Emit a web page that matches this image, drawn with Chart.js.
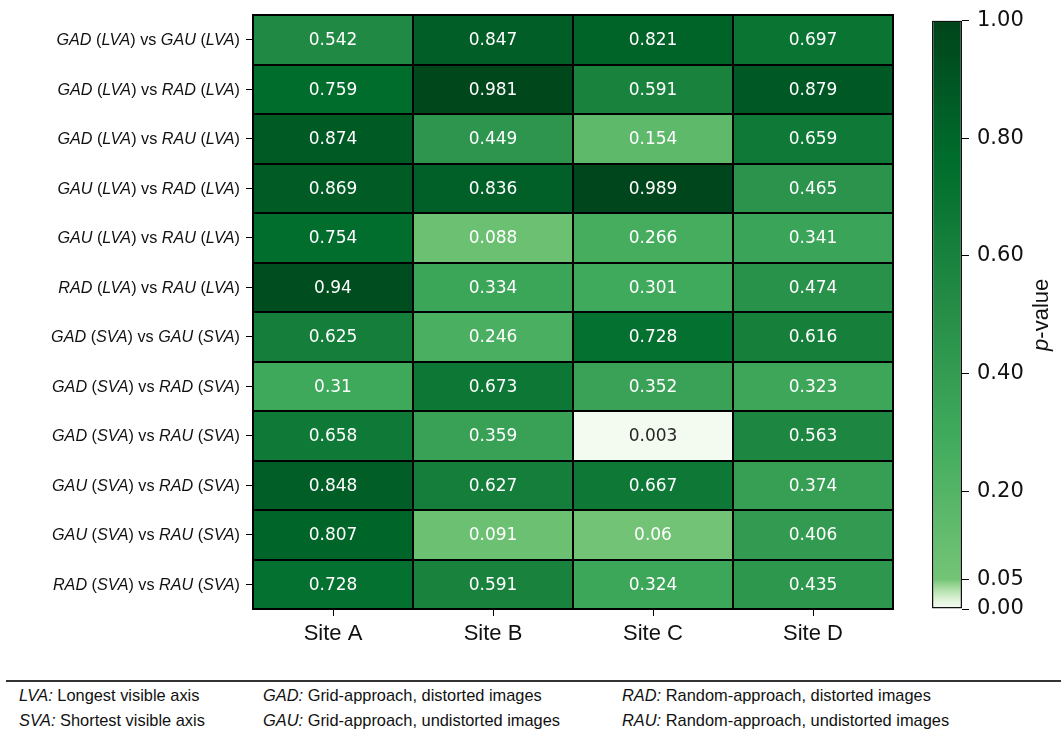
<!DOCTYPE html>
<html>
<head>
<meta charset="utf-8">
<script src="https://cdn.jsdelivr.net/npm/chart.js@4"></script>
<style>
  html, body { margin: 0; padding: 0; background: #fff; }
  #wrap { position: relative; width: 1061px; height: 733px; overflow: hidden; }
  #heat { position: absolute; left: 0; top: 0; }
  #cbar { position: absolute; left: 900px; top: 0; }
  .rule { position: absolute; left: 6px; right: 0; top: 680px; height: 2px; background: #333; }
  .note { position: absolute; font: 16.4px "Liberation Sans", Arial, sans-serif; color: #111; white-space: nowrap; line-height: 20px; }
  .note i { font-style: italic; }
</style>
</head>
<body>
<div id="wrap">
  <canvas id="heat" width="920" height="665"></canvas>
  <canvas id="cbar" width="161" height="665"></canvas>
  <div class="rule"></div>
  <div class="note" style="left:19px;top:685px"><i>LVA:</i> Longest visible axis</div>
  <div class="note" style="left:19px;top:710px"><i>SVA:</i> Shortest visible axis</div>
  <div class="note" style="left:263px;top:685px"><i>GAD:</i> Grid-approach, distorted images</div>
  <div class="note" style="left:263px;top:710px"><i>GAU:</i> Grid-approach, undistorted images</div>
  <div class="note" style="left:622px;top:685px"><i>RAD:</i> Random-approach, distorted images</div>
  <div class="note" style="left:622px;top:710px"><i>RAU:</i> Random-approach, undistorted images</div>
</div>
<script>
// Sites (columns) and pairwise comparisons (rows)
const sites = ['Site A', 'Site B', 'Site C', 'Site D'];
const comparisons = [
  'GAD (LVA) vs GAU (LVA)',
  'GAD (LVA) vs RAD (LVA)',
  'GAD (LVA) vs RAU (LVA)',
  'GAU (LVA) vs RAD (LVA)',
  'GAU (LVA) vs RAU (LVA)',
  'RAD (LVA) vs RAU (LVA)',
  'GAD (SVA) vs GAU (SVA)',
  'GAD (SVA) vs RAD (SVA)',
  'GAD (SVA) vs RAU (SVA)',
  'GAU (SVA) vs RAD (SVA)',
  'GAU (SVA) vs RAU (SVA)',
  'RAD (SVA) vs RAU (SVA)'
];

// p-values per site, one entry per comparison
const siteA = [0.542, 0.759, 0.874, 0.869, 0.754, 0.94, 0.625, 0.31, 0.658, 0.848, 0.807, 0.728];
const siteB = [0.847, 0.981, 0.449, 0.836, 0.088, 0.334, 0.246, 0.673, 0.359, 0.627, 0.091, 0.591];
const siteC = [0.821, 0.591, 0.154, 0.989, 0.266, 0.301, 0.728, 0.352, 0.003, 0.667, 0.06, 0.324];
const siteD = [0.697, 0.879, 0.659, 0.465, 0.341, 0.474, 0.616, 0.323, 0.563, 0.374, 0.406, 0.435];

// Colour bar ticks
const cbarTicks = [0, 0.05, 0.2, 0.4, 0.6, 0.8, 1.0];

const siteValues = [siteA, siteB, siteC, siteD];

// "Greens" colour map (ColorBrewer anchors, linearly interpolated)
const GREENS = ['#f7fcf5', '#e5f5e0', '#c7e9c0', '#a1d99b', '#74c476', '#41ab5d', '#238b45', '#006d2c', '#00441b']
  .map(h => [parseInt(h.slice(1, 3), 16), parseInt(h.slice(3, 5), 16), parseInt(h.slice(5, 7), 16)]);
function greens(t) {
  t = Math.max(0, Math.min(1, t));
  const x = t * (GREENS.length - 1);
  const i = Math.min(Math.floor(x), GREENS.length - 2);
  const f = x - i;
  const a = GREENS[i], b = GREENS[i + 1];
  return [0, 1, 2].map(k => Math.round(a[k] + (b[k] - a[k]) * f));
}
// Two-slope normalisation: 0 -> 0, 0.05 -> 0.5, 1 -> 1
const VMIN = 0, VCENTER = 0.05, VMAX = 1;
function norm(v) {
  if (v <= VCENTER) return 0.5 * (v - VMIN) / (VCENTER - VMIN);
  return 0.5 + 0.5 * (v - VCENTER) / (VMAX - VCENTER);
}
function colorFor(v) { const c = greens(norm(v)); return `rgb(${c[0]},${c[1]},${c[2]})`; }
function isLight(v) {
  const c = greens(norm(v)).map(x => { x /= 255; return x <= 0.03928 ? x / 12.92 : Math.pow((x + 0.055) / 1.055, 2.4); });
  return 0.2126 * c[0] + 0.7152 * c[1] + 0.0722 * c[2] > 0.6;
}

// One stacked dataset per comparison row; each cell spans one unit
const datasets = comparisons.map((name, r) => {
  const pv = siteValues.map(col => col[r]);
  return {
    label: name,
    data: sites.map(() => 1),
    pvals: pv,
    backgroundColor: pv.map(colorFor),
    borderWidth: 0,
    inflateAmount: 0.5,
    barPercentage: 1,
    categoryPercentage: 1
  };
});

const ROW_FONT = '16.2px "Liberation Sans", Arial, sans-serif';
const ROW_FONT_IT = 'italic 16.2px "Liberation Sans", Arial, sans-serif';

const heatPlugin = {
  id: 'heatText',
  afterDatasetsDraw(chart) {
    const ctx = chart.ctx;
    const xs = chart.scales.x, ys = chart.scales.y;
    const area = chart.chartArea;
    ctx.save();
    // cell separators and frame
    ctx.strokeStyle = '#000';
    ctx.lineWidth = 2;
    ctx.beginPath();
    for (let r = 0; r <= comparisons.length; r++) {
      const y = Math.round(ys.getPixelForValue(r));
      ctx.moveTo(area.left - 1, y); ctx.lineTo(area.right + 1, y);
    }
    const step = (area.right - area.left) / sites.length;
    for (let c = 0; c <= sites.length; c++) {
      const x = Math.round(area.left + c * step);
      ctx.moveTo(x, area.top - 1); ctx.lineTo(x, area.bottom + 1);
    }
    ctx.stroke();
    // cell annotations
    ctx.font = '17px "DejaVu Sans", sans-serif';
    ctx.textAlign = 'center';
    ctx.textBaseline = 'middle';
    chart.data.datasets.forEach((ds, r) => {
      const meta = chart.getDatasetMeta(r);
      meta.data.forEach((el, c) => {
        const p = el.getProps(['x', 'y', 'base'], true);
        const v = ds.pvals[c];
        ctx.fillStyle = isLight(v) ? '#262626' : '#ffffff';
        ctx.fillText(String(v), p.x, (p.y + p.base) / 2 + 1);
      });
    });
    ctx.restore();
  },
  afterDraw(chart) {
    // row labels: abbreviations in italics
    const ctx = chart.ctx;
    const ys = chart.scales.y;
    ctx.save();
    ctx.fillStyle = '#111';
    ctx.textBaseline = 'middle';
    ctx.textAlign = 'left';
    comparisons.forEach((lab, r) => {
      const parts = lab.split(/([A-Z]{2,})/).filter(s => s.length);
      const runs = parts.map(s => ({ s, it: /^[A-Z]{2,}$/.test(s) }));
      let w = 0;
      runs.forEach(run => { ctx.font = run.it ? ROW_FONT_IT : ROW_FONT; run.w = ctx.measureText(run.s).width; w += run.w; });
      let x = 240 - w;
      const y = ys.getPixelForValue(r + 0.5) + 1;
      runs.forEach(run => { ctx.font = run.it ? ROW_FONT_IT : ROW_FONT; ctx.fillText(run.s, x, y); x += run.w; });
    });
    ctx.restore();
  }
};

new Chart(document.getElementById('heat'), {
  type: 'bar',
  data: { labels: sites, datasets },
  options: {
    responsive: false,
    animation: false,
    devicePixelRatio: 1,
    layout: { padding: { left: 0, right: 27, top: 15, bottom: 0 } },
    plugins: { legend: { display: false }, tooltip: { enabled: false } },
    scales: {
      x: {
        stacked: true,
        grid: { display: true, drawOnChartArea: false, drawTicks: true, tickLength: 7, color: '#000', offset: false },
        border: { display: false },
        ticks: { color: '#111', font: { family: '"Liberation Sans", Arial, sans-serif', size: 22 }, padding: 5, maxRotation: 0 },
        afterFit(s) { s.height = 56; }
      },
      y: {
        stacked: true,
        min: 0, max: comparisons.length,
        reverse: true,
        afterBuildTicks(s) { s.ticks = comparisons.map((_, i) => ({ value: i + 0.5 })); },
        grid: { display: true, drawOnChartArea: false, drawTicks: true, tickLength: 7, color: '#000' },
        border: { display: false },
        ticks: { callback: () => '', autoSkip: false },
        afterFit(s) { s.width = 253; }
      }
    }
  },
  plugins: [heatPlugin]
});

// Colour bar: a single bar spanning the full value range, filled with the colour map
function cbarGradient(ctx) {
  const chart = ctx.chart;
  const ys = chart.scales.y;
  if (!ys || !chart.chartArea) return colorFor(0.5);
  const y0 = ys.getPixelForValue(VMIN), y1 = ys.getPixelForValue(VMAX);
  const g = chart.ctx.createLinearGradient(0, y0, 0, y1);
  const n = GREENS.length - 1;
  for (let k = 0; k <= n; k++) {
    const t = k / n;
    const v = t <= 0.5 ? VMIN + (VCENTER - VMIN) * t / 0.5 : VCENTER + (VMAX - VCENTER) * (t - 0.5) / 0.5;
    const c = GREENS[k];
    g.addColorStop((v - VMIN) / (VMAX - VMIN), `rgb(${c[0]},${c[1]},${c[2]})`);
  }
  return g;
}

const cbarTitle = {
  id: 'cbarTitle',
  afterDraw(chart) {
    const ctx = chart.ctx;
    const ys = chart.scales.y;
    const cy = (ys.top + ys.bottom) / 2;
    ctx.save();
    ctx.translate(142, cy);
    ctx.rotate(-Math.PI / 2);
    ctx.fillStyle = '#111';
    ctx.textBaseline = 'middle';
    const fIt = 'italic 22px "Liberation Sans", Arial, sans-serif';
    const fUp = '22px "Liberation Sans", Arial, sans-serif';
    ctx.font = fIt; const w1 = ctx.measureText('p').width;
    ctx.font = fUp; const w2 = ctx.measureText('-value').width;
    let x = -(w1 + w2) / 2;
    ctx.font = fIt; ctx.fillText('p', x, 0);
    ctx.font = fUp; ctx.fillText('-value', x + w1, 0);
    ctx.restore();
  }
};

new Chart(document.getElementById('cbar'), {
  type: 'bar',
  data: {
    labels: ['p'],
    datasets: [{
      data: [[VMIN, VMAX]],
      backgroundColor: cbarGradient,
      borderColor: '#111',
      borderWidth: 1.5,
      borderSkipped: false,
      inflateAmount: 0,
      barPercentage: 1,
      categoryPercentage: 1
    }]
  },
  options: {
    responsive: false,
    animation: false,
    devicePixelRatio: 1,
    layout: { padding: { left: 32, right: 0, top: 15, bottom: 56 } },
    plugins: { legend: { display: false }, tooltip: { enabled: false } },
    scales: {
      x: { display: false },
      y: {
        position: 'right',
        min: VMIN, max: VMAX,
        afterBuildTicks(s) { s.ticks = cbarTicks.map(v => ({ value: v })); },
        grid: { display: true, drawOnChartArea: false, drawTicks: true, tickLength: 7, color: '#000' },
        border: { display: false },
        ticks: {
          color: '#111',
          font: { family: '"DejaVu Sans", sans-serif', size: 21 },
          padding: 8,
          autoSkip: false,
          callback: v => Number(v).toFixed(2)
        },
        afterFit(s) { s.width = 99; }
      }
    }
  },
  plugins: [cbarTitle]
});
</script>
</body>
</html>
